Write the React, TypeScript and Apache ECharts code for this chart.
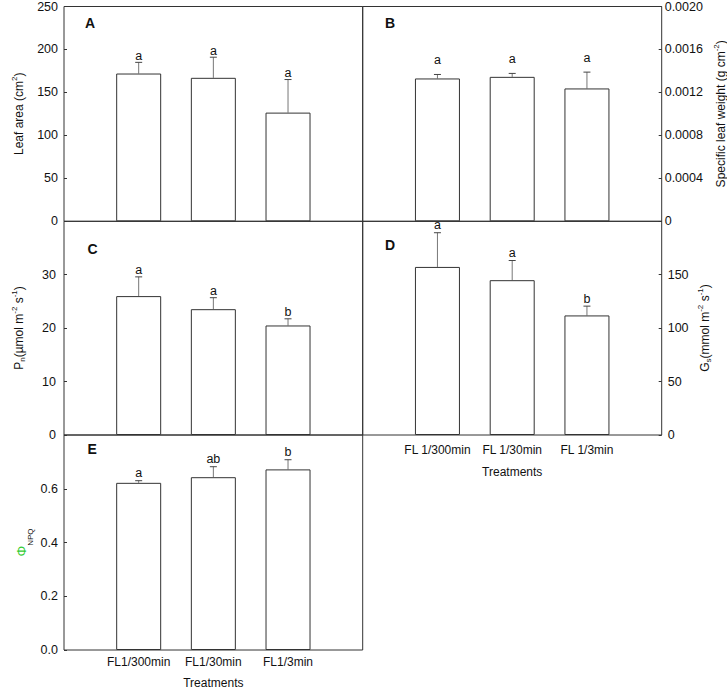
import React, { useEffect, useRef } from 'react';
import * as echarts from 'echarts';

const categoriesE = ['FL1/300min', 'FL1/30min', 'FL1/3min'];
const categoriesD = ['FL 1/300min', 'FL 1/30min', 'FL 1/3min'];

const leafArea = [172, 167, 126.5];
const leafAreaErr = [13, 24, 38.5];
const leafAreaLetters = ['a', 'a', 'a'];

const slw = [0.00133, 0.001345, 0.001237];
const slwErr = [0.000037, 0.000032, 0.000152];
const slwLetters = ['a', 'a', 'a'];

const pn = [26.0, 23.55, 20.5];
const pnErr = [3.6, 2.15, 1.25];
const pnLetters = ['a', 'a', 'b'];

const gs = [157.3, 144.9, 111.9];
const gsErr = [32, 18.4, 8.7];
const gsLetters = ['a', 'a', 'b'];

const npq = [0.622, 0.643, 0.672];
const npqErr = [0.008, 0.039, 0.036];
const npqLetters = ['a', 'ab', 'b'];

const FONT = 'Liberation Sans, Arial, Helvetica, sans-serif';
const LINE = '#333';
const TICK_FS = 12.5;

type Panel = {
  grid: { left: number; top: number; width: number; height: number };
  values: number[];
  errs: number[];
  letters: string[];
  yMax: number;
  yInterval: number;
  yPos: 'left' | 'right';
  yMargin: number;
  fmt: (v: number) => string;
  hideMax: boolean;
  xLabels: string[] | null;
  xMargin: number;
  xName: string;
  xNameGap: number;
  letterOff: number;
};

const panels: Panel[] = [
  {
    grid: { left: 64, top: 6.3, width: 298.7, height: 215 },
    values: leafArea, errs: leafAreaErr, letters: leafAreaLetters,
    yMax: 250, yInterval: 50, yPos: 'left', yMargin: 6,
    fmt: (v) => String(Math.round(v)), hideMax: false,
    xLabels: null, xMargin: 0, xName: '', xNameGap: 0, letterOff: 0,
  },
  {
    grid: { left: 362.7, top: 6.3, width: 299, height: 215 },
    values: slw, errs: slwErr, letters: slwLetters,
    yMax: 0.002, yInterval: 0.0004, yPos: 'right', yMargin: 3,
    fmt: (v) => (Math.abs(v) < 1e-9 ? '0' : v.toFixed(4)), hideMax: false,
    xLabels: null, xMargin: 0, xName: '', xNameGap: 0, letterOff: -8,
  },
  {
    grid: { left: 64, top: 221.3, width: 298.7, height: 213.7 },
    values: pn, errs: pnErr, letters: pnLetters,
    yMax: 40, yInterval: 10, yPos: 'left', yMargin: 8,
    fmt: (v) => String(Math.round(v)), hideMax: true,
    xLabels: null, xMargin: 0, xName: '', xNameGap: 0, letterOff: 0,
  },
  {
    grid: { left: 362.7, top: 221.3, width: 299, height: 213.7 },
    values: gs, errs: gsErr, letters: gsLetters,
    yMax: 200, yInterval: 50, yPos: 'right', yMargin: 6,
    fmt: (v) => String(Math.round(v)), hideMax: true,
    xLabels: categoriesD, xMargin: 9, xName: 'Treatments', xNameGap: 31, letterOff: -1,
  },
  {
    grid: { left: 64, top: 435, width: 298.7, height: 215 },
    values: npq, errs: npqErr, letters: npqLetters,
    yMax: 0.8, yInterval: 0.2, yPos: 'left', yMargin: 6,
    fmt: (v) => v.toFixed(1), hideMax: true,
    xLabels: categoriesE, xMargin: 6, xName: 'Treatments', xNameGap: 27, letterOff: -1,
  },
];

function buildOption() {
  const grid: any[] = [];
  const xAxis: any[] = [];
  const yAxis: any[] = [];
  const series: any[] = [];

  panels.forEach((p, i) => {
    grid.push({
      ...p.grid,
      show: true,
      borderColor: LINE,
      borderWidth: 1,
      backgroundColor: 'transparent',
      containLabel: false,
    });
    const cats = p.xLabels ?? categoriesE;
    xAxis.push({
      type: 'category',
      gridIndex: i,
      data: ['', ...cats, ''],
      boundaryGap: false,
      axisLine: { show: false },
      axisTick: { show: false },
      splitLine: { show: false },
      axisLabel: {
        show: !!p.xLabels,
        interval: 0,
        margin: p.xMargin,
        color: '#111',
        fontSize: 12,
        fontFamily: FONT,
      },
      name: p.xName,
      nameLocation: 'middle',
      nameGap: p.xNameGap,
      nameTextStyle: { color: '#111', fontSize: 12, fontFamily: FONT },
    });
    yAxis.push({
      type: 'value',
      gridIndex: i,
      position: p.yPos,
      min: 0,
      max: p.yMax,
      interval: p.yInterval,
      axisLine: { show: false },
      axisTick: { show: true, inside: true, length: 3, lineStyle: { color: LINE } },
      splitLine: { show: false },
      axisLabel: {
        margin: p.yMargin,
        color: '#111',
        fontSize: TICK_FS,
        fontFamily: FONT,
        formatter: (v: number) => (p.hideMax && Math.abs(v - p.yMax) < p.yInterval / 100 ? '' : p.fmt(v)),
      },
    });
    series.push({
      type: 'bar',
      xAxisIndex: i,
      yAxisIndex: i,
      barWidth: 45,
      data: p.values.map((v, j) => [j + 1, v]),
      itemStyle: { color: '#ffffff', borderColor: LINE, borderWidth: 1 },
      silent: true,
    });
    const letters = p.letters;
    const off = p.letterOff;
    series.push({
      type: 'custom',
      xAxisIndex: i,
      yAxisIndex: i,
      clip: false,
      silent: true,
      data: p.values.map((v, j) => [j + 1, v, p.errs[j]]),
      renderItem: (params: any, api: any) => {
        const x = api.value(0);
        const m = api.value(1);
        const e = api.value(2);
        const p0 = api.coord([x, m]);
        const p1 = api.coord([x, m + e]);
        return {
          type: 'group',
          children: [
            {
              type: 'line',
              shape: { x1: p0[0], y1: p0[1], x2: p1[0], y2: p1[1] },
              style: { stroke: '#777', lineWidth: 1 },
            },
            {
              type: 'line',
              shape: { x1: p1[0] - 3.5, y1: p1[1], x2: p1[0] + 3.5, y2: p1[1] },
              style: { stroke: '#444', lineWidth: 1 },
            },
            {
              type: 'text',
              x: p1[0],
              y: p1[1] + off,
              style: {
                text: letters[params.dataIndex],
                fill: '#111',
                fontSize: 12.5,
                fontFamily: FONT,
                align: 'center',
                verticalAlign: 'bottom',
              },
            },
          ],
        };
      },
    });
  });

  const rich = {
    m: { fontSize: 12, fontFamily: FONT, fill: '#111', lineHeight: 16, verticalAlign: 'middle' },
    sup: { fontSize: 8, fontFamily: FONT, fill: '#111', lineHeight: 8, verticalAlign: 'top' },
    sub: { fontSize: 8, fontFamily: FONT, fill: '#111', lineHeight: 8, verticalAlign: 'bottom' },
  };
  const richPhi = {
    phi: { fontSize: 13.5, fontFamily: FONT, fill: '#33cc33', lineHeight: 26, verticalAlign: 'middle' },
    sub: { fontSize: 8, fontFamily: FONT, fill: '#111', lineHeight: 8, verticalAlign: 'bottom' },
  };

  const titleText = (x: number, y: number, text: string, r: any) => ({
    type: 'text',
    x,
    y,
    rotation: Math.PI / 2,
    silent: true,
    style: { text, rich: r, align: 'center', verticalAlign: 'middle' },
  });
  const panelLetter = (x: number, y: number, t: string) => ({
    type: 'text',
    x,
    y,
    silent: true,
    style: {
      text: t,
      fill: '#111',
      fontSize: 14,
      fontWeight: 'bold',
      fontFamily: FONT,
      align: 'left',
      verticalAlign: 'middle',
    },
  });

  const graphic = [
    panelLetter(85, 23, 'A'),
    panelLetter(385, 23, 'B'),
    panelLetter(87.5, 249, 'C'),
    panelLetter(385, 245, 'D'),
    panelLetter(87.5, 448.5, 'E'),
    titleText(18.5, 113.8, '{m|Leaf area (cm}{sup|2}{m|)}', rich),
    titleText(720.5, 113.8, '{m|Specific leaf weight (g cm}{sup|-2}{m|)}', rich),
    titleText(18.5, 328, '{m|P}{sub|n}{m|(µmol m}{sup|-2}{m| s}{sup|-1}{m|)}', rich),
    titleText(704.5, 328, '{m|G}{sub|s}{m|(mmol m}{sup|-2}{m| s}{sup|-1}{m|)}', rich),
    titleText(21, 542.5, '{phi|Φ}{sub|NPQ}', richPhi),
  ];

  return {
    animation: false,
    backgroundColor: '#ffffff',
    grid,
    xAxis,
    yAxis,
    series,
    graphic,
  };
}

export default function App() {
  const ref = useRef<HTMLDivElement>(null);
  useEffect(() => {
    if (!ref.current) return;
    const chart = echarts.init(ref.current, null, { renderer: 'svg' });
    chart.setOption(buildOption() as any);
    return () => chart.dispose();
  }, []);
  return (
    <div
      ref={ref}
      style={{ position: 'absolute', left: 0, top: 0, width: 727, height: 691, background: '#fff' }}
    />
  );
}
